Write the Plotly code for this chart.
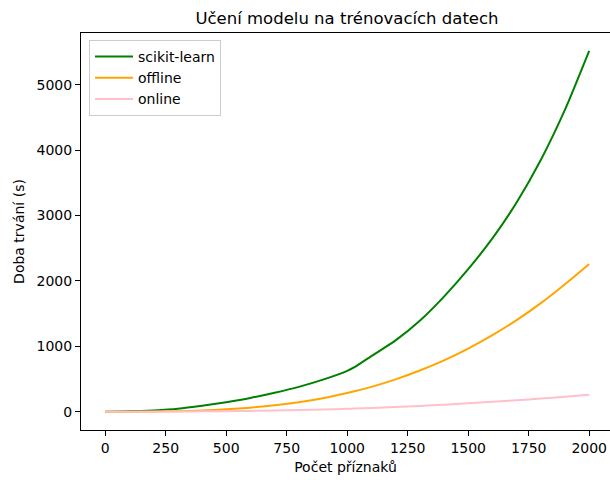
import plotly.graph_objects as go

# Data
features = [0, 100, 200, 300, 400, 500, 600, 700, 800, 900, 1000, 1030, 1100,
            1200, 1300, 1400, 1500, 1600, 1700, 1800, 1900, 2000]
sklearn_times = [0, 5, 20, 45, 90, 145, 210, 290, 380, 490, 625, 680, 850,
                 1090, 1390, 1760, 2180, 2650, 3200, 3850, 4620, 5520]
offline_times = [0, 1, 3, 8, 18, 36, 62, 98, 145, 206, 285, 312, 380,
                 495, 630, 785, 965, 1170, 1400, 1660, 1950, 2260]
online_times = [0, 0.5, 1, 3, 5, 8, 12, 18, 24, 33, 45, 48, 57,
                72, 88, 108, 128, 152, 175, 200, 228, 258]

x_ticks = [0, 250, 500, 750, 1000, 1250, 1500, 1750, 2000]
y_ticks = [0, 1000, 2000, 3000, 4000, 5000]

FONT = "DejaVu Sans"
W, H = 610, 480
L, R, T, B = 81, 0, 33, 50

fig = go.Figure()
fig.add_trace(go.Scatter(x=features, y=sklearn_times, mode="lines", name="scikit-learn",
                         line=dict(color="green", width=2, shape="spline", smoothing=0.6)))
fig.add_trace(go.Scatter(x=features, y=offline_times, mode="lines", name="offline",
                         line=dict(color="orange", width=2, shape="spline", smoothing=0.6)))
fig.add_trace(go.Scatter(x=features, y=online_times, mode="lines", name="online",
                         line=dict(color="pink", width=2, shape="spline", smoothing=0.6)))

fig.update_layout(
    width=W, height=H,
    margin=dict(l=L, r=R, t=T, b=B, pad=0, autoexpand=False),
    paper_bgcolor="white", plot_bgcolor="white",
    font=dict(family=FONT, size=14, color="black"),
    title=dict(text="Učení modelu na trénovacích datech", font=dict(size=16.5, family=FONT),
               x=347 / W, xref="container", xanchor="center",
               y=1 - 18 / H, yref="container", yanchor="middle"),
    showlegend=True,
    legend=dict(x=(89 - L) / (W - L - R), y=1 - (40 - T) / (H - T - B),
                xanchor="left", yanchor="top", itemwidth=38,
                bgcolor="rgba(255,255,255,0.8)", bordercolor="#cccccc", borderwidth=1,
                font=dict(size=14, family=FONT), tracegroupgap=0),
    hovermode=False,
)

fig.update_xaxes(range=[-100, 2086], tickvals=x_ticks, ticktext=[str(v) for v in x_ticks],
                 ticks="outside", ticklen=5, tickwidth=1, tickcolor="black",
                 showline=True, linecolor="black", linewidth=1, mirror=True,
                 showgrid=False, zeroline=False, automargin=False,
                 tickfont=dict(size=14, family=FONT),
                 title=dict(text="Počet příznaků", font=dict(size=14, family=FONT), standoff=7))
fig.update_yaxes(range=[-280, 5792], tickvals=y_ticks, ticktext=[str(v) for v in y_ticks],
                 ticks="outside", ticklen=5, tickwidth=1, tickcolor="black",
                 showline=True, linecolor="black", linewidth=1, mirror=False,
                 showgrid=False, zeroline=False, automargin=False,
                 tickfont=dict(size=14, family=FONT),
                 title=dict(text="Doba trvání (s)", font=dict(size=14, family=FONT), standoff=8))

fig.write_html("out.html", config={"displayModeBar": False},
               post_script="document.body.style.margin='0';document.body.style.overflow='hidden';")
